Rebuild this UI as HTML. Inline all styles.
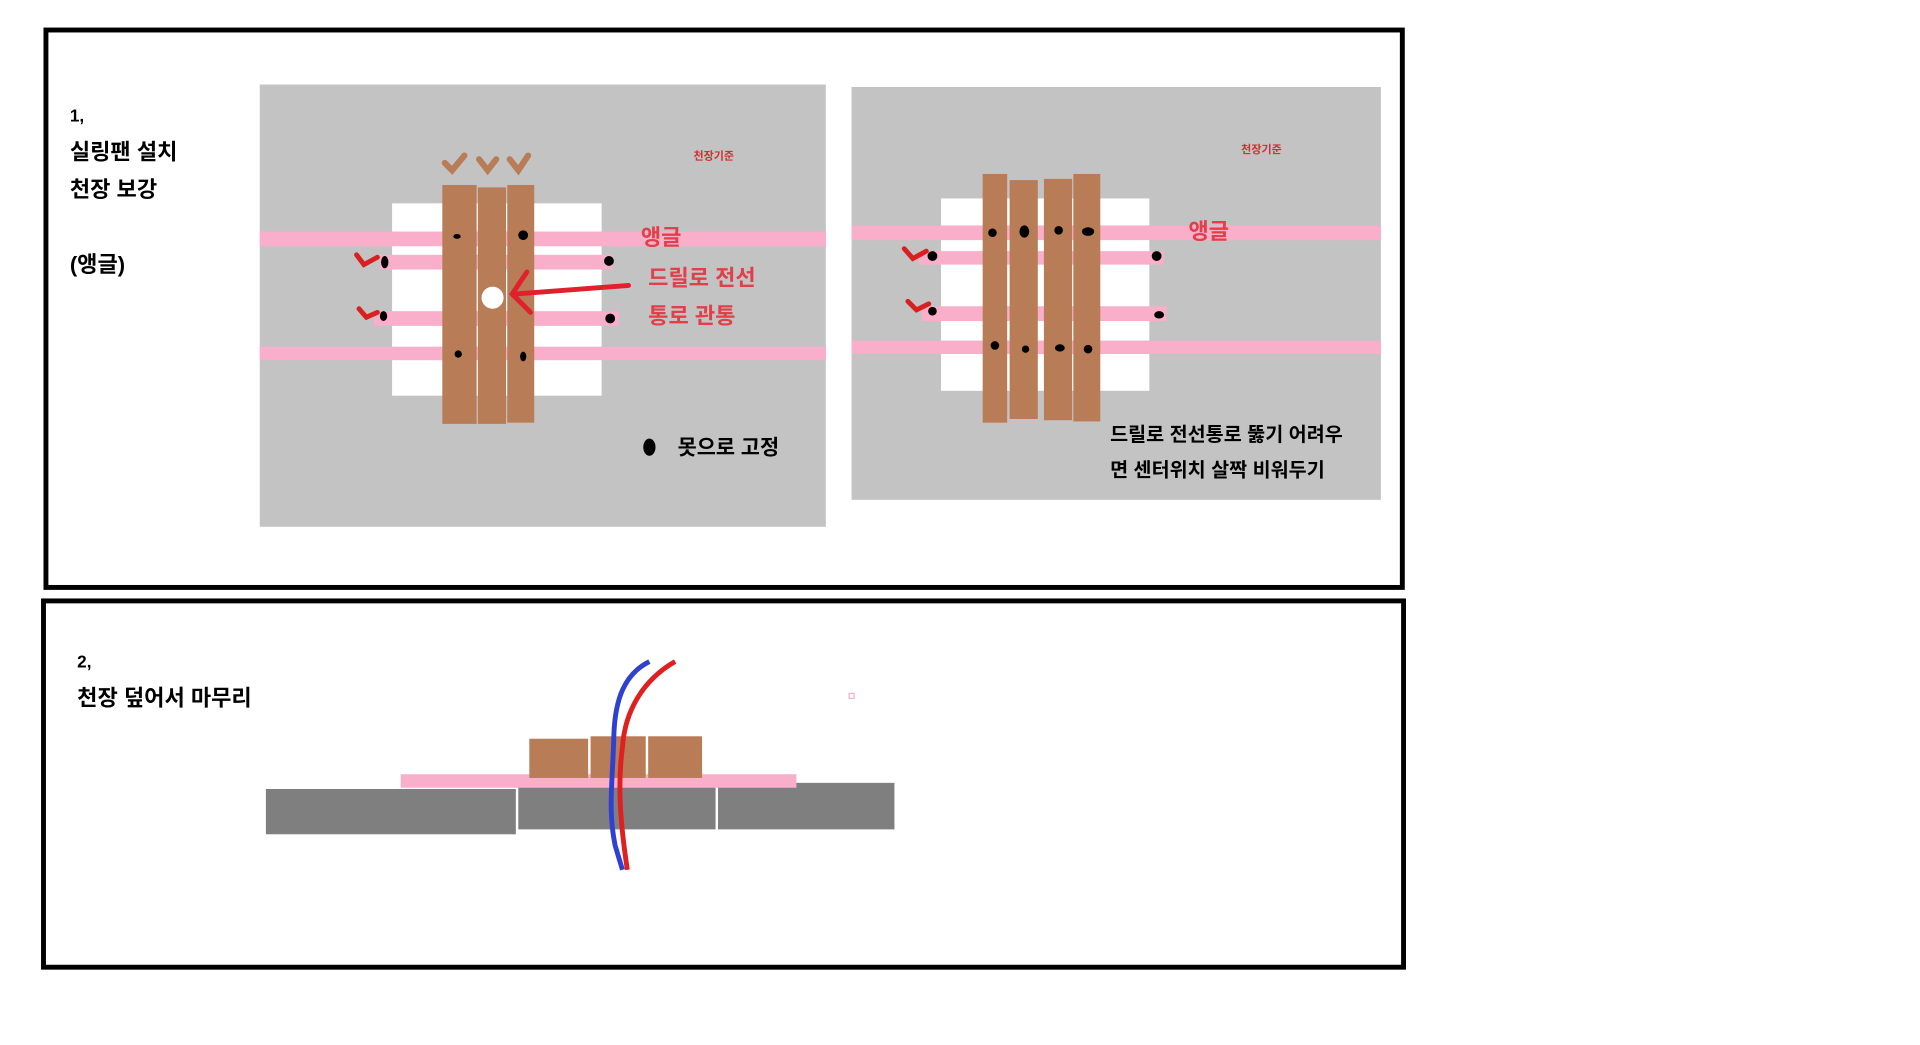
<!DOCTYPE html>
<html><head><meta charset="utf-8"><style>
html,body{margin:0;padding:0;background:#fff;}
svg{display:block;}
text{font-family:"Liberation Sans","Noto Sans CJK KR","NanumGothic",sans-serif;font-weight:bold;}
</style></head><body>
<svg width="1920" height="1045" viewBox="0 0 1567 853" preserveAspectRatio="none" xmlns="http://www.w3.org/2000/svg">
<rect x="0" y="0" width="1567" height="853" fill="#fff"/>
<!-- top box -->
<rect x="37.5" y="24.5" width="1107" height="455" fill="none" stroke="#000" stroke-width="4"/>
<text x="57" y="99" font-size="14">1,</text>
<text x="57" y="130" font-size="18">실링팬 설치</text>
<text x="57" y="161" font-size="18">천장 보강</text>
<text x="57" y="222" font-size="18">(앵글)</text>
<!-- left panel -->
<rect x="212" y="69" width="462" height="361" fill="#c3c3c3"/>
<rect x="320" y="166" width="171" height="157" fill="#fff"/>
<rect x="212" y="189" width="462" height="12" fill="#f9aec9"/>
<rect x="212" y="283" width="462" height="11" fill="#f9aec9"/>
<rect x="310" y="208" width="190" height="12" fill="#f9aec9"/>
<rect x="305" y="254" width="200" height="12" fill="#f9aec9"/>
<rect x="361" y="151" width="28" height="195" fill="#b87c57"/>
<rect x="390" y="153" width="23" height="193" fill="#b87c57"/>
<rect x="414" y="151" width="22" height="194" fill="#b87c57"/>
<g fill="#000"><ellipse cx="373" cy="193" rx="3" ry="2"/><circle cx="427" cy="192" r="4"/><ellipse cx="314" cy="214" rx="3" ry="5"/><circle cx="497" cy="213" r="4"/><ellipse cx="313" cy="258" rx="3" ry="4"/><circle cx="498" cy="260" r="4"/><circle cx="374" cy="289" r="3"/><ellipse cx="427" cy="291" rx="2.5" ry="4"/><ellipse cx="530" cy="365" rx="5" ry="7"/></g>
<circle cx="402" cy="243" r="9" fill="#fff"/>
<path d="M513 233 L420 240 M430 222 L418 240 L433 255" stroke="#e0202c" stroke-width="4" fill="none" stroke-linecap="round"/>
<path d="M291 208 L297 216 L308 210 M293 252 L299 259 L308 255" stroke="#d82020" stroke-width="4" fill="none" stroke-linecap="round"/>
<path d="M363 133 L369 139 L379 127 M391 130 L398 139 L405 130 M416 130 L423 139 L431 127" stroke="#b87c57" stroke-width="5" fill="none" stroke-linecap="round"/>
<text x="566" y="130" font-size="9" fill="#d03030">천장기준</text>
<text x="523" y="200" font-size="18" fill="#e0404a">앵글</text>
<text x="529" y="233" font-size="18" fill="#e0404a">드릴로 전선</text>
<text x="529" y="264" font-size="18" fill="#e0404a">통로 관통</text>
<text x="553" y="371" font-size="17">못으로 고정</text>
<!-- right panel -->
<rect x="695" y="71" width="432" height="337" fill="#c3c3c3"/>
<rect x="768" y="162" width="170" height="157" fill="#fff"/>
<rect x="695" y="184" width="432" height="12" fill="#f9aec9"/>
<rect x="695" y="278" width="432" height="11" fill="#f9aec9"/>
<rect x="750" y="205" width="200" height="11" fill="#f9aec9"/>
<rect x="752" y="250" width="200" height="12" fill="#f9aec9"/>
<rect x="802" y="142" width="20" height="203" fill="#b87c57"/>
<rect x="824" y="147" width="23" height="195" fill="#b87c57"/>
<rect x="852" y="146" width="23" height="197" fill="#b87c57"/>
<rect x="876" y="142" width="22" height="202" fill="#b87c57"/>
<g fill="#000"><circle cx="810" cy="190" r="3.5"/><ellipse cx="836" cy="189" rx="4" ry="5"/><circle cx="864" cy="188" r="3.5"/><ellipse cx="888" cy="189" rx="5" ry="3.5"/><circle cx="761" cy="209" r="4"/><circle cx="944" cy="209" r="4"/><circle cx="761" cy="254" r="3.5"/><ellipse cx="946" cy="257" rx="4" ry="3"/><circle cx="812" cy="282" r="3.5"/><circle cx="837" cy="285" r="3"/><ellipse cx="865" cy="284" rx="4" ry="3"/><circle cx="888" cy="285" r="3.5"/></g>
<path d="M738 203 L745 211 L756 205 M741 246 L748 253 L758 248" stroke="#d82020" stroke-width="4" fill="none" stroke-linecap="round"/>
<text x="1013" y="125" font-size="9" fill="#d03030">천장기준</text>
<text x="970" y="195" font-size="18" fill="#e0404a">앵글</text>
<text x="906" y="360" font-size="16">드릴로 전선통로 뚫기 어려우</text>
<text x="906" y="389" font-size="16">면 센터위치 살짝 비워두기</text>
<!-- bottom box -->
<rect x="35.5" y="490.5" width="1110" height="299" fill="none" stroke="#000" stroke-width="4"/>
<text x="63" y="545" font-size="14">2,</text>
<text x="63" y="576" font-size="18">천장 덮어서 마무리</text>
<rect x="217" y="644" width="204" height="37" fill="#7f7f7f"/>
<rect x="423" y="641" width="161" height="36" fill="#7f7f7f"/>
<rect x="586" y="639" width="144" height="38" fill="#7f7f7f"/>
<rect x="327" y="632" width="323" height="11" fill="#f9aec9"/>
<rect x="432" y="603" width="48" height="32" fill="#b87c57"/>
<rect x="482" y="601" width="45" height="34" fill="#b87c57"/>
<rect x="529" y="601" width="44" height="34" fill="#b87c57"/>
<path d="M530 540 C510 550 502 570 501 600 C500 640 496 660 502 690 L508 710" stroke="#3040d0" stroke-width="4" fill="none"/>
<path d="M551 540 C525 555 510 580 508 610 C504 640 506 670 512 710" stroke="#e02020" stroke-width="4" fill="none"/>
<rect x="693" y="566" width="4" height="4" fill="none" stroke="#f9aec9" stroke-width="1"/>
</svg>
</body></html>
